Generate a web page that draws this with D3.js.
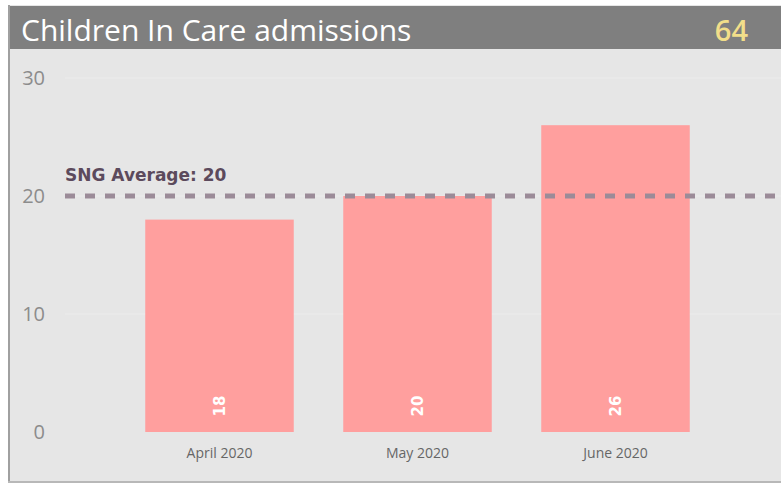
<!DOCTYPE html>
<html>
<head>
<meta charset="utf-8">
<script src="https://cdn.jsdelivr.net/npm/d3@7"></script>
<style>
  body { margin: 0; background: #fff; }
  svg { display: block; }
</style>
</head>
<body>
<div id="chart"></div>
<script>
// values
const months = ['April 2020', 'May 2020', 'June 2020'];
const admissions = [18, 20, 26];
const yTicks = [0, 10, 20, 30];
const average = 20;
const total = 64;

const width = 781, height = 484;
const svg = d3.select('#chart').append('svg').attr('width', width).attr('height', height);

// panel frame
svg.append('rect').attr('x', 8).attr('y', 5).attr('width', width - 8).attr('height', 477).attr('fill', '#e6e6e6');
svg.append('line').attr('x1', 9).attr('x2', 9).attr('y1', 5).attr('y2', 482).attr('stroke', '#a0a0a0').attr('stroke-width', 2);
svg.append('line').attr('x1', 8).attr('x2', width).attr('y1', 482).attr('y2', 482).attr('stroke', '#b8b8b8').attr('stroke-width', 2);

// header
svg.append('rect').attr('x', 10).attr('y', 6).attr('width', width - 10).attr('height', 43).attr('fill', '#7f7f7f');
svg.append('text').attr('x', 21).attr('y', 41).text('Children In Care admissions')
  .style('font-family', '"Open Sans", sans-serif').style('font-size', '30px').style('fill', '#fff');
svg.append('text').attr('x', 748).attr('y', 41).attr('text-anchor', 'end').text(total)
  .style('font-family', '"Open Sans", sans-serif').style('font-size', '29px').style('font-weight', '600').style('fill', '#f2de8a');

// scales
const x = d3.scaleBand().domain(months).range([120.5, 714.5]).paddingInner(0.25).paddingOuter(0.125);
const y = d3.scaleLinear().domain([0, 30]).range([432, 78]);

// gridlines
svg.append('g').selectAll('line').data(yTicks.filter(d => d > 0)).enter().append('line')
  .attr('x1', 65).attr('x2', width).attr('y1', d => y(d)).attr('y2', d => y(d))
  .attr('stroke', '#ececec').attr('stroke-width', 1);

// y axis labels
const yAxis = svg.append('g').attr('transform', 'translate(45,0)')
  .call(d3.axisLeft(y).tickValues(yTicks).tickSize(0).tickPadding(0));
yAxis.select('.domain').remove();
yAxis.selectAll('text').style('font-family', '"Open Sans", sans-serif').style('font-size', '20px').style('fill', '#8c8c8c');

// bars
svg.append('g').selectAll('rect').data(admissions).enter().append('rect')
  .attr('x', (d, i) => x(months[i])).attr('y', d => y(d))
  .attr('width', x.bandwidth()).attr('height', d => y(0) - y(d))
  .attr('fill', '#ff9f9e');

// value labels inside bars
svg.append('g').selectAll('text').data(admissions).enter().append('text')
  .attr('transform', (d, i) => `translate(${x(months[i]) + x.bandwidth() / 2 + 5},406) rotate(-90)`)
  .attr('text-anchor', 'middle').text(d => d)
  .style('font-family', '"DejaVu Sans", sans-serif').style('font-size', '15px').style('font-weight', 'bold').style('fill', '#fff');

// x axis labels
const xAxis = svg.append('g').attr('transform', 'translate(0,444)')
  .call(d3.axisBottom(x).tickSize(0).tickPadding(4));
xAxis.select('.domain').remove();
xAxis.selectAll('text').style('font-family', '"Open Sans", sans-serif').style('font-size', '14px').style('fill', '#666');

// average line
svg.append('line').attr('x1', 65).attr('x2', width).attr('y1', y(average)).attr('y2', y(average))
  .attr('stroke', '#9b8b98').attr('stroke-width', 5).attr('stroke-dasharray', '10,10');
svg.append('text').attr('x', 65).attr('y', 181).text('SNG Average: ' + average)
  .style('font-family', '"DejaVu Sans", sans-serif').style('font-size', '17px').style('font-weight', '600')
  .style('fill', '#5c4a5c');
</script>
</body>
</html>
